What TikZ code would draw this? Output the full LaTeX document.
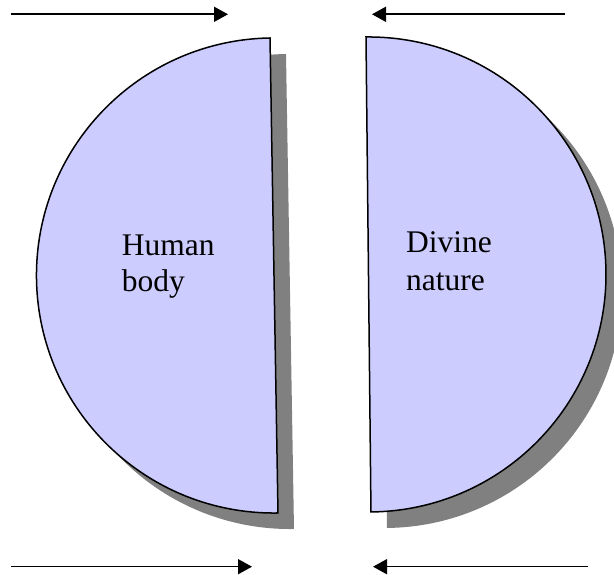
\documentclass[tikz,border=0pt]{standalone}
\usepackage{fontspec}
\setmainfont{Liberation Serif}
\usetikzlibrary{arrows.meta}
\definecolor{halffill}{HTML}{CCCCFF}
\definecolor{shadowgray}{HTML}{808080}
\tikzset{
  halfdisk/.style={fill=halffill,draw=black,line width=1.5pt,line join=miter},
  halfshadow/.style={fill=shadowgray,draw=none},
  pointer/.style={line width=1.6pt,-{Triangle[length=14pt,width=15pt]}},
  label/.style={inner sep=0pt,anchor=base west,font=\fontsize{31.5}{35.7}\selectfont}
}
\begin{document}
\begin{tikzpicture}[x=1pt,y=1pt]
\useasboundingbox (0,0) rectangle (614,575);
% shadows
\fill[halfshadow] (286,521) arc[start angle=90.965,end angle=270.965,radius=237.53] -- cycle;
\fill[halfshadow] (382,522) arc[start angle=90.6,end angle=-89.4,radius=237.51] -- cycle;
% half disks
\draw[halfdisk] (270,537) arc[start angle=90.965,end angle=270.965,radius=237.53] -- cycle;
\draw[halfdisk] (366,538) arc[start angle=90.6,end angle=-89.4,radius=237.51] -- cycle;
% texts
\node[label] (human) at (121.7,319) {Human};
\node[label] (body) at (121.7,283.3) {body};
\node[label] (divine) at (406,322) {Divine};
\node[label] (nature) at (406,284.3) {nature};
% arrows
\coordinate (tl0) at (11,560.7);
\coordinate (tl1) at (228,560.7);
\coordinate (tr0) at (565,560.7);
\coordinate (tr1) at (372,560.7);
\coordinate (bl0) at (11,8.3);
\coordinate (bl1) at (252,8.3);
\coordinate (br0) at (588,8.3);
\coordinate (br1) at (373,8.3);
\draw[pointer] (tl0) -- (tl1);
\draw[pointer] (tr0) -- (tr1);
\draw[pointer] (bl0) -- (bl1);
\draw[pointer] (br0) -- (br1);
\end{tikzpicture}
\end{document}
